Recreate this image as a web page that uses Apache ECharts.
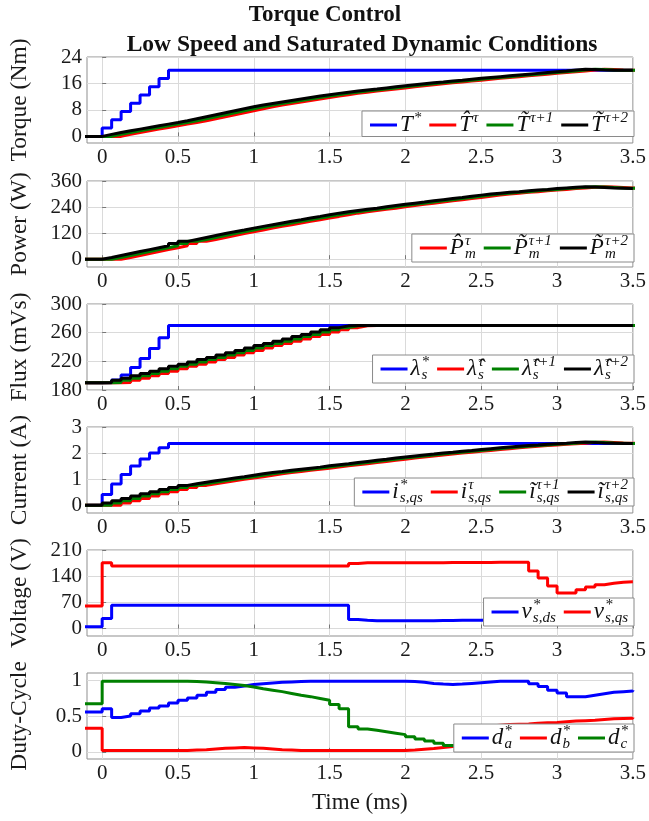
<!DOCTYPE html>
<html>
<head>
<meta charset="utf-8">
<script src="https://cdn.jsdelivr.net/npm/echarts@6/dist/echarts.min.js"></script>
<style>
  html, body { margin: 0; padding: 0; background: #fff; }
  #chart { width: 649px; height: 821px; }
</style>
</head>
<body>
<div id="chart"></div>
<script>
// ---- sampling -------------------------------------------------------------
const Ts = 0.0625;          // controller sampling period (ms)
const seqStart = -0.125;    // time of the first sample in every sequence (ms)
const timeTicks = [0, 0.5, 1, 1.5, 2, 2.5, 3, 3.5];

// ---- reference commands (change points) ------------------------------------
const torqueRefT  = [-0.1, 0, 0.0625, 0.125, 0.1875, 0.25, 0.3125, 0.375, 0.4375, 3.5];
const torqueRefV  = [0, 2.5, 5, 7.5, 10, 12.5, 15, 17.5, 20, 20];
const fluxRefT    = [-0.1, 0.0625, 0.125, 0.1875, 0.25, 0.3125, 0.375, 0.4375, 3.5];
const fluxRefV    = [190, 194, 201, 211.5, 224, 238, 253, 270, 270];
const currentRefT = [-0.1, 0, 0.0625, 0.125, 0.1875, 0.25, 0.3125, 0.375, 0.4375, 3.5];
const currentRefV = [0, 0.41, 0.81, 1.18, 1.5, 1.77, 2.0, 2.2, 2.37, 2.37];

// ---- estimated quantities: one sample per Ts starting at seqStart ---------
// (tau) is drawn at the sample time, (tau+1) one period earlier, (tau+2) two
const torqueEst = [0, 0, 0, 0,
  0.6, 1.2, 1.7, 2.2, 2.7, 3.2, 3.7, 4.2,
  4.75, 5.35, 5.95, 6.55, 7.15, 7.75, 8.35, 8.95,
  9.5, 9.95, 10.4, 10.85, 11.3, 11.75, 12.2, 12.6,
  13.0, 13.35, 13.7, 14.0, 14.3, 14.65, 15.0, 15.3,
  15.6, 15.9, 16.2, 16.45, 16.75, 17.0, 17.3, 17.55,
  17.8, 18.05, 18.3, 18.55, 18.8, 19.05, 19.3, 19.55,
  19.8, 20.1, 20.3, 20.2, 20.05, 20.0, 20.0, 20.0, 20.0];
const powerEst = [0, 0, 0, 0,
  8, 17, 26, 35, 44, 53, 62, 72,
  82, 91, 100, 109, 118, 126, 134, 143,
  151, 159, 167, 175, 182, 190, 197, 205,
  212, 218, 224, 230, 235, 241, 247, 253,
  258, 263, 269, 274, 279, 284, 290, 295,
  300, 304, 308, 311, 315, 318, 321, 325,
  328, 331, 333, 332, 330, 328, 327, 326, 326];
const fluxEst = [190, 190, 190, 190,
  190.5, 193.5, 196.5, 200, 203, 206, 209.5, 213,
  216, 219, 222.5, 225.5, 229, 232, 235, 238.5,
  242, 245, 248, 251, 254.5, 257.5, 261, 264,
  267, 269.5, 270, 270, 270, 270, 270, 270,
  270, 270, 270, 270, 270, 270, 270, 270,
  270, 270, 270, 270, 270, 270, 270, 270,
  270, 270, 270, 270, 270, 270, 270, 270, 270];
const currentEst = [0, 0, 0, 0,
  0.08, 0.17, 0.26, 0.35, 0.44, 0.52, 0.60, 0.68,
  0.76, 0.82, 0.88, 0.94, 0.99, 1.04, 1.09, 1.15,
  1.21, 1.25, 1.29, 1.34, 1.38, 1.42, 1.46, 1.51,
  1.55, 1.59, 1.64, 1.68, 1.72, 1.76, 1.81, 1.85,
  1.89, 1.93, 1.96, 2.0, 2.03, 2.07, 2.10, 2.14,
  2.17, 2.2, 2.23, 2.26, 2.29, 2.31, 2.34, 2.36,
  2.38, 2.41, 2.42, 2.41, 2.39, 2.38, 2.37, 2.37, 2.37];

// ---- voltage commands --------------------------------------------------------
const vdsRef = [5, 5, 27,
  62, 62, 62, 62, 62, 62, 62, 62, 62, 62, 62, 62, 62, 62, 62, 62, 62, 62, 62, 62, 62, 62, 62, 62, 62,
  24, 22,
  21, 21, 21, 21, 21, 21, 21,
  21.5, 21.5, 22, 22, 22,
  22.5, 22.5, 23, 23, 23,
  23.5, 23.5, 24, 24, 24,
  24, 24.5, 24.5, 25, 25, 25, 25];
const vqsRef = [60, 60, 176,
  167, 167, 167, 167, 167, 167, 167, 167, 167, 167, 167, 167, 167, 167, 167, 167, 167, 167, 167, 167, 167, 167, 167, 167, 167,
  174,
  176, 176, 176, 176, 176, 176, 176, 176, 176, 176.5, 176.5, 176.5, 176.5, 176.5, 177, 177, 177, 177,
  154, 135, 114, 95, 95, 104, 111, 117, 121, 124, 125, 124];

// ---- duty-cycle commands ---------------------------------------------------
const dutyA = [0.555, 0.555, 0.60, 0.48, 0.50, 0.53, 0.57, 0.61, 0.64, 0.68,
  0.72, 0.75, 0.79, 0.83, 0.87, 0.90, 0.92, 0.94, 0.95, 0.96, 0.97, 0.975, 0.98,
  0.985, 0.985, 0.985, 0.985, 0.985, 0.985, 0.985, 0.985, 0.985, 0.985, 0.985,
  0.98, 0.97, 0.955, 0.945, 0.94, 0.945, 0.955, 0.965, 0.975,
  0.985, 0.985, 0.985, 0.985,
  0.95, 0.91, 0.86, 0.82, 0.77, 0.77, 0.79, 0.81, 0.83, 0.84, 0.85, 0.86];
const dutyB = [0.33, 0.33,
  0.02, 0.02, 0.02, 0.02, 0.02, 0.02, 0.02, 0.02, 0.02,
  0.025, 0.03, 0.04, 0.05, 0.055, 0.06, 0.055, 0.05, 0.04, 0.03, 0.025,
  0.02, 0.02, 0.02, 0.02, 0.02, 0.02, 0.02, 0.02, 0.02, 0.02, 0.02, 0.02,
  0.025, 0.035, 0.045, 0.06, 0.075, 0.09, 0.2, 0.3, 0.36, 0.37, 0.38, 0.385, 0.39,
  0.40, 0.405, 0.41, 0.42, 0.43, 0.435, 0.44, 0.45, 0.46, 0.465, 0.47, 0.48];
const dutyC = [0.67, 0.67,
  0.985, 0.985, 0.985, 0.985, 0.985, 0.985, 0.985, 0.985, 0.985,
  0.98, 0.975, 0.965, 0.955, 0.94, 0.925, 0.905, 0.88, 0.86, 0.84, 0.815, 0.79,
  0.77, 0.745, 0.72, 0.66, 0.60,
  0.35, 0.32, 0.30, 0.28, 0.26, 0.24, 0.21, 0.18, 0.15, 0.12, 0.09, 0.07,
  0.055, 0.05, 0.05, 0.05, 0.055, 0.06, 0.065, 0.07, 0.08, 0.085, 0.09,
  0.1, 0.105, 0.11, 0.12, 0.125, 0.13, 0.135, 0.14];

// ---- helpers ---------------------------------------------------------------
const serif = 'Liberation Serif';
const BLUE = '#0000ff', RED = '#ff0000', GREEN = '#008000', BLACK = '#000000';

function sampled(values, lead) {
  return values.map((v, i) => [seqStart + i * Ts - lead * Ts, v]);
}
function changePoints(times, values) {
  return times.map((t, i) => [t, values[i]]);
}

const panelTops = [57, 181, 304, 427, 550, 673];
const panelHeight = 86;

const grid = panelTops.map(top => ({
  left: 84, right: 12, top: top, height: panelHeight,
  show: true, borderColor: '#8f8f8f', borderWidth: 1, backgroundColor: '#fff'
}));

const xAxis = panelTops.map((_, i) => ({
  type: 'value', gridIndex: i, min: -0.1, max: 3.5,
  axisLine: { show: false },
  axisTick: { show: true, inside: true, length: 4, customValues: timeTicks,
              lineStyle: { color: '#777' } },
  axisLabel: { customValues: timeTicks, margin: 4, color: '#1a1a1a',
               fontFamily: serif, fontSize: 21, formatter: v => String(v) },
  splitLine: { show: true, lineStyle: { color: '#dadada', width: 1 } },
  name: i === 5 ? 'Time (ms)' : '',
  nameLocation: 'middle', nameGap: 32,
  nameTextStyle: { fontFamily: serif, fontSize: 23, color: '#1a1a1a' }
}));

const yDefs = [
  { name: 'Torque (Nm)',  min: -2,   max: 24,  ticks: [0, 8, 16, 24] },
  { name: 'Power (W)',    min: -36,  max: 360, ticks: [0, 120, 240, 360] },
  { name: 'Flux (mVs)',   min: 180,  max: 300, ticks: [180, 220, 260, 300] },
  { name: 'Current (A)',  min: -0.3, max: 3,   ticks: [0, 1, 2, 3] },
  { name: 'Voltage (V)',  min: -20,  max: 210, ticks: [0, 70, 140, 210] },
  { name: 'Duty-Cycle',   min: -0.1, max: 1.1, ticks: [0, 0.5, 1] }
];

const yAxis = yDefs.map((d, i) => ({
  type: 'value', gridIndex: i, min: d.min, max: d.max,
  axisLine: { show: false },
  axisTick: { show: true, inside: true, length: 4, customValues: d.ticks,
              lineStyle: { color: '#777' } },
  axisLabel: { customValues: d.ticks, margin: 5, color: '#1a1a1a',
               fontFamily: serif, fontSize: 21, formatter: v => String(v) },
  splitLine: { show: true, lineStyle: { color: '#dadada', width: 1 } },
  name: d.name, nameLocation: 'middle', nameGap: 55,
  nameTextStyle: { fontFamily: serif, fontSize: 23.5, color: '#1a1a1a' }
}));

function line(name, panel, data, color) {
  return {
    name: name, type: 'line', xAxisIndex: panel, yAxisIndex: panel,
    data: data, step: 'end', symbol: 'none', clip: true,
    lineStyle: { color: color, width: 3 }, itemStyle: { color: color },
    emphasis: { disabled: true }, animation: false
  };
}

const series = [
  line('Tref', 0, changePoints(torqueRefT, torqueRefV), BLUE),
  line('Test0', 0, sampled(torqueEst, 0), RED),
  line('Test1', 0, sampled(torqueEst, 1), GREEN),
  line('Test2', 0, sampled(torqueEst, 2), BLACK),

  line('Pest0', 1, sampled(powerEst, 0), RED),
  line('Pest1', 1, sampled(powerEst, 1), GREEN),
  line('Pest2', 1, sampled(powerEst, 2), BLACK),

  line('Lref', 2, changePoints(fluxRefT, fluxRefV), BLUE),
  line('Lest0', 2, sampled(fluxEst, 0), RED),
  line('Lest1', 2, sampled(fluxEst, 1), GREEN),
  line('Lest2', 2, sampled(fluxEst, 2), BLACK),

  line('Iref', 3, changePoints(currentRefT, currentRefV), BLUE),
  line('Iest0', 3, sampled(currentEst, 0), RED),
  line('Iest1', 3, sampled(currentEst, 1), GREEN),
  line('Iest2', 3, sampled(currentEst, 2), BLACK),

  line('Vds', 4, sampled(vdsRef, 0), BLUE),
  line('Vqs', 4, sampled(vqsRef, 0), RED),

  line('Da', 5, sampled(dutyA, 0), BLUE),
  line('Db', 5, sampled(dutyB, 0), RED),
  line('Dc', 5, sampled(dutyC, 0), GREEN)
];

// ---- legend labels (math set with rich text) -------------------------------
const HAT = '\u0302', TIL = '\u0303';
const legendText = {
  Tref:  '{v|T}{sp|*}',
  Test0: '{v|T' + HAT + '}{sp|\u03c4}',
  Test1: '{v|T' + TIL + '}{sp|\u03c4+1}',
  Test2: '{v|T' + TIL + '}{sp|\u03c4+2}',
  Pest0: '{v|P' + HAT + '}{sbz|m}{sp|\u03c4}',
  Pest1: '{v|P' + TIL + '}{sbz|m}{sp|\u03c4+1}',
  Pest2: '{v|P' + TIL + '}{sbz|m}{sp|\u03c4+2}',
  Lref:  '{v|\u03bb}{sbz|s}{sp|*}',
  Lest0: '{v|\u03bb' + HAT + '}{sbz|s}{sp|\u03c4}',
  Lest1: '{v|\u03bb' + HAT + '}{sbz|s}{sp|\u03c4+1}',
  Lest2: '{v|\u03bb' + HAT + '}{sbz|s}{sp|\u03c4+2}',
  Iref:  '{v|i}{spz|*}{sb|s,qs}',
  Iest0: '{v|i}{spz|\u03c4}{sb|s,qs}',
  Iest1: '{v|\u0129}{spz|\u03c4+1}{sb|s,qs}',
  Iest2: '{v|\u0129}{spz|\u03c4+2}{sb|s,qs}',
  Vds:   '{v|v}{spz|*}{sb|s,ds}',
  Vqs:   '{v|v}{spz|*}{sb|s,qs}',
  Da:    '{v|d}{spz|*}{sb|a}',
  Db:    '{v|d}{spz|*}{sb|b}',
  Dc:    '{v|d}{spz|*}{sb|c}'
};
const mathBase = { fontFamily: serif, fontStyle: 'italic', color: '#111' };
const rich = {
  v:   Object.assign({}, mathBase, { fontSize: 23, lineHeight: 28, padding: [0, 1, 0, 0] }),
  sp:  Object.assign({}, mathBase, { fontSize: 15, lineHeight: 17, verticalAlign: 'top' }),
  spz: Object.assign({}, mathBase, { fontSize: 15, lineHeight: 17, verticalAlign: 'top', width: 0.1 }),
  sb:  Object.assign({}, mathBase, { fontSize: 15, lineHeight: 15, verticalAlign: 'bottom' }),
  sbz: Object.assign({}, mathBase, { fontSize: 15, lineHeight: 15, verticalAlign: 'bottom', width: 0.1 })
};

function legendBox(top, names) {
  return {
    top: top, right: 15, orient: 'horizontal', data: names,
    backgroundColor: '#fff', borderColor: '#8a8a8a', borderWidth: 1, borderRadius: 0,
    padding: [0, 6, 0, 8], itemGap: 8, itemWidth: 27, itemHeight: 3, icon: 'rect',
    selectedMode: false,
    textStyle: { rich: rich, padding: [0, 0, 0, -2] },
    formatter: n => legendText[n]
  };
}

const legend = [
  legendBox(111, ['Tref', 'Test0', 'Test1', 'Test2']),
  legendBox(234, ['Pest0', 'Pest1', 'Pest2']),
  legendBox(355, ['Lref', 'Lest0', 'Lest1', 'Lest2']),
  legendBox(478, ['Iref', 'Iest0', 'Iest1', 'Iest2']),
  legendBox(598, ['Vds', 'Vqs']),
  legendBox(724, ['Da', 'Db', 'Dc'])
];

// two-line heading
const titleFont = 'bold 23px "' + serif + '"';
const graphic = [
  { type: 'text', x: 325, y: 15,
    style: { text: 'Torque Control', font: titleFont, fill: '#111',
             textAlign: 'center', textVerticalAlign: 'middle' } },
  { type: 'text', x: 362, y: 45,
    style: { text: 'Low Speed and Saturated Dynamic Conditions', font: 'bold 23.5px "' + serif + '"',
             fill: '#111', textAlign: 'center', textVerticalAlign: 'middle' } }
];

const chart = echarts.init(document.getElementById('chart'), null, { renderer: 'canvas' });
chart.setOption({
  backgroundColor: '#fff',
  animation: false,
  graphic: graphic,
  grid: grid,
  xAxis: xAxis,
  yAxis: yAxis,
  legend: legend,
  series: series
});
</script>
</body>
</html>
